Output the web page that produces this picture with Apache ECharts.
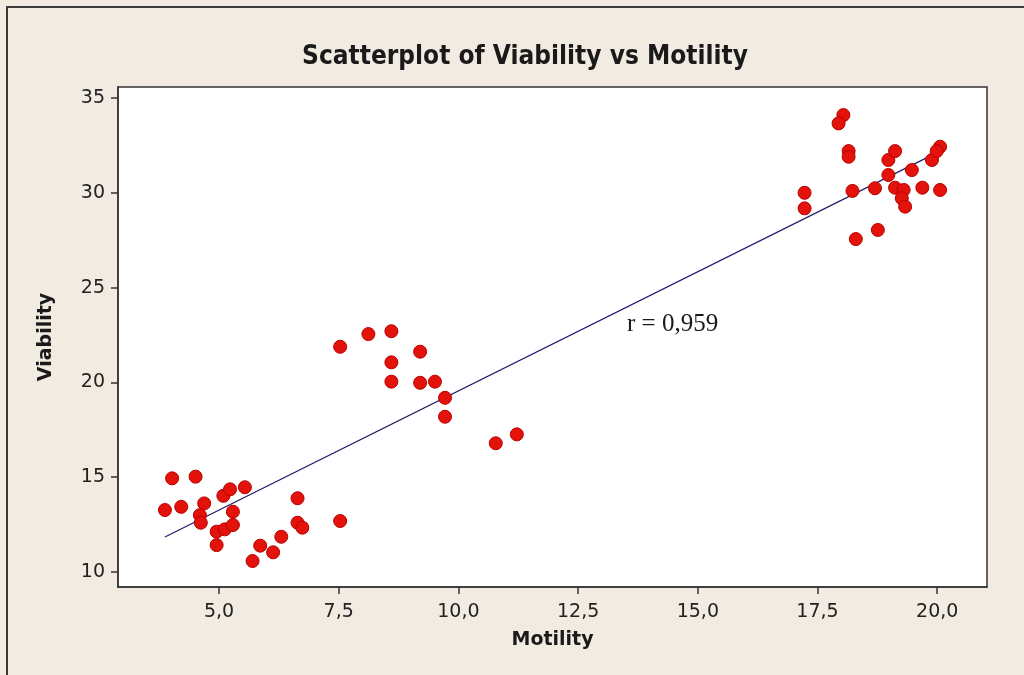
<!DOCTYPE html>
<html>
<head>
<meta charset="utf-8">
<script src="https://cdn.jsdelivr.net/npm/echarts@6/dist/echarts.min.js"></script>
<style>html,body{margin:0;padding:0;background:#f1ebe2;}#c{width:1024px;height:675px;}</style>
</head>
<body>
<div id="c"></div>
<script>
// Motility (x) and Viability (y)
const motility = [
  3.87, 4.02, 4.21, 4.51, 4.69, 4.60, 4.62, 4.95, 4.95, 5.12,
  5.09, 5.23, 5.29, 5.29, 5.54, 5.70, 5.86, 6.13, 6.30, 6.64,
  6.64, 6.74, 7.53,
  7.53, 8.12, 8.60, 8.60, 8.60, 9.20, 9.20, 9.51, 9.72, 9.72,
  10.78, 11.22,
  18.04, 17.94, 18.15, 18.15, 17.23, 17.23, 18.23, 18.30, 18.76, 18.70,
  18.98, 18.98, 19.12, 19.12, 19.30, 19.26, 19.33, 19.47, 19.69, 19.89,
  20.06, 20.06, 19.99
];
const viability = [
  13.27, 14.94, 13.44, 15.03, 13.62, 13.00, 12.60, 12.13, 11.42, 12.25,
  14.02, 14.36, 13.18, 12.48, 14.47, 10.58, 11.39, 11.04, 11.86, 13.89,
  12.60, 12.34, 12.69,
  21.88, 22.55, 22.70, 21.06, 20.04, 21.62, 19.98, 20.04, 19.19, 18.19,
  16.79, 17.26,
  34.10, 33.66, 32.20, 31.90, 30.00, 29.18, 30.10, 27.56, 28.04, 30.24,
  30.94, 31.73, 32.20, 30.27, 30.15, 29.71, 29.27, 31.20, 30.27, 31.73,
  30.15, 32.43, 32.20
];
// Fitted line endpoints
const fitX = [3.87, 20.06];
const fitY = [11.85, 32.2];
// Tick values
const xTicks = [5, 7.5, 10, 12.5, 15, 17.5, 20];
const yTicks = [10, 15, 20, 25, 30, 35];
const titleText = 'Scatterplot of Viability vs Motility';
const annotation = 'r = 0,959';

const points = motility.map((x, i) => [x, viability[i]]);
const fitLine = fitX.map((x, i) => [x, fitY[i]]);

const chart = echarts.init(document.getElementById('c'), null, {renderer: 'canvas'});
const axisColor = '#333';
chart.setOption({
  backgroundColor: '#f1ebe2',
  animation: false,
  title: {
    text: titleText,
    left: 520, top: 39, textAlign: 'center',
    textStyle: {fontFamily: 'DejaVu Sans Condensed', fontWeight: 'bold', fontSize: 26, color: '#1a1a1a'}
  },
  grid: {left: 118, right: 37, top: 87, bottom: 88, show: true, backgroundColor: '#ffffff', borderColor: axisColor, borderWidth: 1.5},
  xAxis: {
    type: 'value', min: 2.89, max: 21.04,
    name: 'Motility', nameLocation: 'middle', nameGap: 44,
    nameTextStyle: {fontFamily: 'DejaVu Sans', fontWeight: 'bold', fontSize: 19, color: '#1a1a1a'},
    axisLine: {lineStyle: {color: axisColor, width: 1.5}},
    axisTick: {show: true, length: 7, lineStyle: {color: axisColor, width: 1.5}, customValues: xTicks},
    axisLabel: {customValues: xTicks, margin: 16, fontFamily: 'DejaVu Sans', fontSize: 19, color: '#222',
      formatter: v => v.toFixed(1).replace('.', ',')},
    splitLine: {show: false}
  },
  yAxis: {
    type: 'value', min: 9.21, max: 35.58,
    name: 'Viability', nameLocation: 'middle', nameGap: 62, nameRotate: 90,
    nameTextStyle: {fontFamily: 'DejaVu Sans', fontWeight: 'bold', fontSize: 19, color: '#1a1a1a'},
    axisLine: {lineStyle: {color: axisColor, width: 1.5}},
    axisTick: {show: true, length: 7, lineStyle: {color: axisColor, width: 1.5}, customValues: yTicks},
    axisLabel: {customValues: yTicks, margin: 13, fontFamily: 'DejaVu Sans', fontSize: 19, color: '#222',
      formatter: v => String(v)},
    splitLine: {show: false}
  },
  series: [
    {
      type: 'line', data: fitLine, symbol: 'none', silent: true,
      lineStyle: {color: '#1c1c70', width: 1.2}, z: 2
    },
    {
      type: 'scatter', data: points, symbol: 'circle', symbolSize: 13,
      itemStyle: {color: '#e3120b', borderColor: '#b80000', borderWidth: 1, opacity: 1}, z: 3
    }
  ],
  graphic: [
    {type: 'rect', shape: {x: 7, y: 7, width: 1100, height: 800}, style: {fill: 'none', stroke: '#3a3a3a', lineWidth: 2}, silent: true},
    {type: 'text', x: 627, y: 324, style: {text: annotation, font: '25px "Liberation Serif"', fill: '#1a1a1a', textVerticalAlign: 'middle', textAlign: 'left'}}
  ]
});
</script>
</body>
</html>
